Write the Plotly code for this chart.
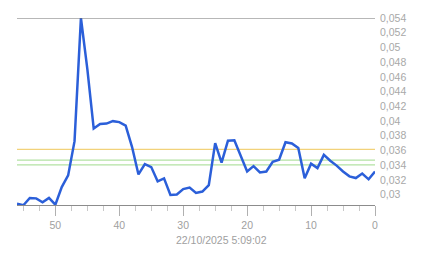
import plotly.graph_objects as go

# minutes ago (x) and value (y)
minutes = list(range(56, -1, -1))
values = [
    0.02877, 0.02857, 0.02956, 0.02950, 0.02897, 0.02956, 0.02864, 0.03103,
    0.03262, 0.03727, 0.05400, 0.04709, 0.03899, 0.03959, 0.03966, 0.03999,
    0.03986, 0.03939, 0.03647, 0.03275, 0.03415, 0.03375, 0.03182, 0.03222,
    0.02996, 0.03003, 0.03076, 0.03096, 0.03023, 0.03043, 0.03129, 0.03700,
    0.03435, 0.03733, 0.03740, 0.03528, 0.03315, 0.03388, 0.03302, 0.03315,
    0.03448, 0.03474, 0.03713, 0.03696, 0.03634, 0.03222, 0.03421, 0.03362,
    0.03541, 0.03461, 0.03395, 0.03315, 0.03249, 0.03226, 0.03288, 0.03209,
    0.03315,
]
ref_orange = [0.03616]
ref_green = [0.03470, 0.03404]
y_ticks = [0.030, 0.032, 0.034, 0.036, 0.038, 0.040, 0.042, 0.044,
           0.046, 0.048, 0.050, 0.052, 0.054]
x_ticks = [50, 40, 30, 20, 10, 0]
timestamp = "22/10/2025 5:09:02"

y_text = [("%g" % round(v, 3)).replace(".", ",") for v in y_ticks]

fig = go.Figure()
fig.add_trace(go.Scatter(
    x=minutes, y=values, mode="lines",
    line=dict(color="#2b5fd9", width=2.5),
    hoverinfo="skip", showlegend=False,
))

shapes = []
for v in ref_orange:
    shapes.append(dict(type="line", xref="paper", x0=0, x1=1, yref="y", y0=v, y1=v,
                       line=dict(color="#f2d27a", width=1.2), layer="below"))
for v in ref_green:
    shapes.append(dict(type="line", xref="paper", x0=0, x1=1, yref="y", y0=v, y1=v,
                       line=dict(color="#b3e2a3", width=1.2), layer="below"))
shapes.append(dict(type="line", xref="paper", x0=0, x1=1, yref="y",
                   y0=max(y_ticks), y1=max(y_ticks),
                   line=dict(color="#707070", width=1.2)))

fig.update_layout(
    width=443, height=258,
    margin=dict(l=17, r=68, t=14, b=53),
    paper_bgcolor="white", plot_bgcolor="white",
    font=dict(family="Liberation Sans, Arial, sans-serif", color="#a0a0a0", size=10),
    shapes=shapes,
    xaxis=dict(
        range=[56, 0], tickvals=x_ticks, ticktext=[str(t) for t in x_ticks],
        showgrid=False, zeroline=False,
        showline=True, linecolor="#8c8c8c", linewidth=1.2,
        ticks="outside", ticklen=10, tickcolor="#b0b0b0", tickwidth=1,
        minor=dict(dtick=2.5, tick0=0, ticks="outside", ticklen=5,
                   tickcolor="#c8c8c8", tickwidth=1, showgrid=False),
        tickfont=dict(size=10.5, color="#a0a0a0"),
        fixedrange=True,
    ),
    yaxis=dict(
        side="right", range=[0.0286, 0.054],
        tickvals=y_ticks, ticktext=y_text,
        showgrid=False, zeroline=False, showline=False,
        ticks="", tickfont=dict(size=10.5, color="#a8a8a8"),
        ticklabelstandoff=4, fixedrange=True,
    ),
    annotations=[dict(
        text=timestamp, xref="paper", yref="paper",
        x=(221.5 - 17) / 358, y=-0.185, xanchor="center", yanchor="middle",
        showarrow=False, font=dict(size=10.5, color="#a0a0a0"),
    )],
)

fig.write_html("out.html")
